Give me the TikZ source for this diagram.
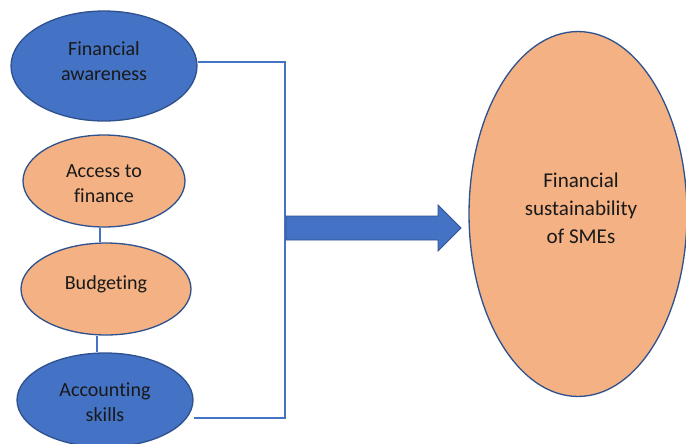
\documentclass[tikz,border=0pt]{standalone}
\usepackage{fontspec}
\setmainfont{Carlito}[Ligatures=NoCommon]
\usepackage{tikz}
\usetikzlibrary{shapes.geometric}
\definecolor{OfficeBlue}{RGB}{68,114,196}
\definecolor{EdgeBlue}{RGB}{47,82,143}
\definecolor{SoftOrange}{RGB}{244,177,131}
\tikzset{
  factor/.style={ellipse, draw=EdgeBlue, line width=0.75pt, inner sep=0pt},
  bluefactor/.style={factor, fill=OfficeBlue},
  orangefactor/.style={factor, fill=SoftOrange},
  tag/.style={align=center, inner sep=0pt, text=black!90, font=\fontsize{11.4}{14.2}\selectfont},
  bigtag/.style={tag, font=\fontsize{12}{15.9}\selectfont},
  link/.style={draw=OfficeBlue, line width=0.6pt},
  bigarrow/.style={fill=OfficeBlue, draw=EdgeBlue, line width=0.5pt},
}

\begin{document}
\begin{tikzpicture}[x=0.02cm, y=-0.02cm]
  \clip (0,0) rectangle (686,443);
  % determinants on the left
  \node[bluefactor, minimum width=3.72cm, minimum height=2.2cm,
    label={[tag, yshift=0.1cm]center:{Financial\\awareness}}] (fa) at (104,66) {};
  \node[orangefactor, minimum width=3.24cm, minimum height=1.84cm,
    label={[tag, yshift=-0.06cm]center:{Access to\\finance}}] (ac) at (104,181) {};
  \node[orangefactor, minimum width=3.4cm, minimum height=1.84cm,
    label={[tag, yshift=0.1cm]center:{Budgeting}}] (bu) at (106,289) {};
  \node[bluefactor, minimum width=3.52cm, minimum height=1.88cm,
    label={[tag, yshift=-0.04cm]center:{Accounting\\skills}}] (as) at (105,400) {};
  % outcome
  \node[orangefactor, minimum width=4.36cm, minimum height=7.3cm,
    label={[bigtag, yshift=0.12cm, xshift=0.06cm]center:{Financial\\sustainability\\of SMEs}}] (fs) at (578,214) {};

  \coordinate (jt) at (285,62);
  \coordinate (jb) at (285,418);
  \coordinate (jm) at (285,228);
  \draw[link] ([xshift=-0.08cm]ac.south) -- ([xshift=-0.08cm]ac.south |- bu.north);
  \draw[link] ([xshift=-0.18cm]bu.south) -- ([xshift=-0.18cm]bu.south |- as.north);
  \draw[link] (jt -| fa.east) -- (jt) -- (jb) -- (jb -| as.east);

  % block arrow into the outcome
  \filldraw[bigarrow] (jm) ++(1,-12) -- ++(152,0) -- ++(0,-11) -- ++(23,23)
    -- ++(-23,23) -- ++(0,-11) -- ++(-152,0) -- cycle;
\end{tikzpicture}
\end{document}
